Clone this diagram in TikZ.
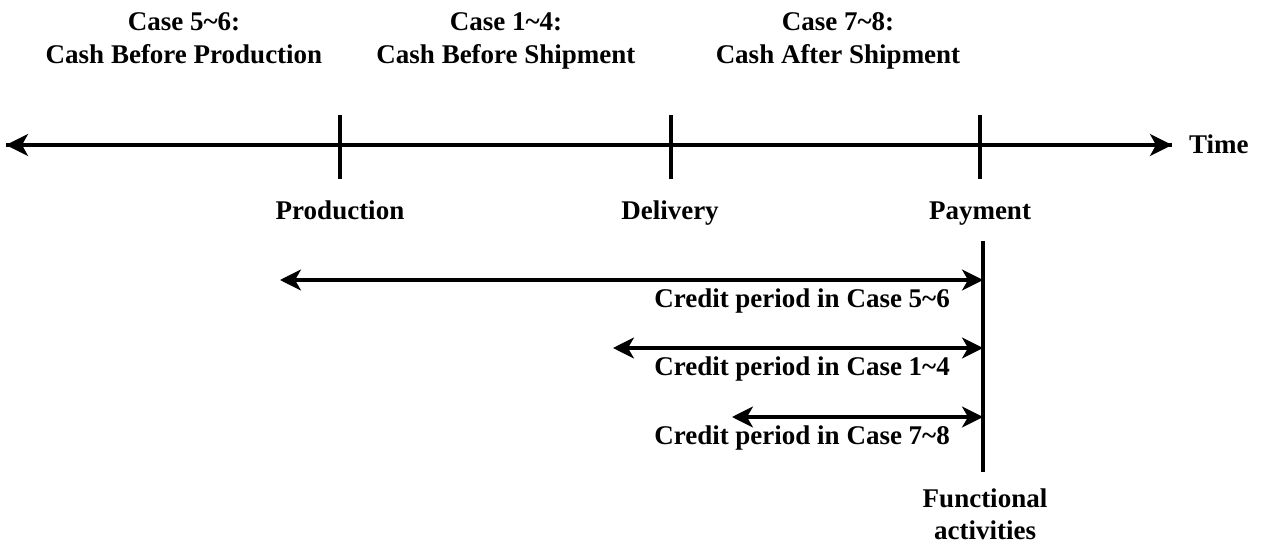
\documentclass[tikz,border=0pt]{standalone}
\usepackage{fontspec}
\setmainfont{Liberation Serif}
\usetikzlibrary{arrows.meta}
\begin{document}
\begin{tikzpicture}[x=1bp,y=-1bp,
  lbl/.style={font=\fontsize{27bp}{32bp}\selectfont\bfseries, inner sep=0pt, anchor=base},
  axis/.style={line width=3.5bp, -{Stealth[length=22bp,width=22bp,inset=6bp]}},
  tick/.style={line width=3.5bp},
  credit/.style={line width=3.2bp, {Stealth[length=21bp,width=21bp,inset=6bp]}-{Stealth[length=21bp,width=21bp,inset=6bp]}}]
\useasboundingbox (0,0) rectangle (1263,546);
% axis
\coordinate (L) at (6,145);
\coordinate (R) at (1172,145);
\draw[axis] (R) -- (L);
\draw[axis] (L) -- (R);
\node[lbl, anchor=base west] (time) at (1189,154) {Time};
% ticks
\coordinate (p1) at (340,115); \coordinate (p2) at (340,179);
\coordinate (d1) at (671,115); \coordinate (d2) at (671,179);
\coordinate (y1) at (980,115); \coordinate (y2) at (980,179);
\draw[tick] (p1) -- (p2);
\draw[tick] (d1) -- (d2);
\draw[tick] (y1) -- (y2);
\node[lbl] (prod) at (340,220) {Production};
\node[lbl] (deliv) at (670,220) {Delivery};
\node[lbl] (pay) at (980,220) {Payment};
% top labels
\node[lbl] (c56a) at (184,31) {Case 5\textasciitilde 6:};
\node[lbl] (c56b) at (184,64) {Cash Before Production};
\node[lbl] (c14a) at (506,31) {Case 1\textasciitilde 4:};
\node[lbl] (c14b) at (506,64) {Cash Before Shipment};
\node[lbl] (c78a) at (838,31) {Case 7\textasciitilde 8:};
\node[lbl] (c78b) at (838,64) {Cash After Shipment};
% functional line
\coordinate (f1) at (983,241);
\coordinate (f2) at (983,472);
\draw[line width=3.5bp] (f1) -- (f2);
\node[lbl] (funca) at (985,507) {Functional};
\node[lbl] (funcb) at (985,539) {activities};
% credit arrows
\coordinate (a1) at (280,280); \coordinate (b1) at (983,280);
\coordinate (a2) at (613,348); \coordinate (b2) at (983,348);
\coordinate (a3) at (732,417); \coordinate (b3) at (983,417);
\draw[credit] (a1) -- (b1);
\draw[credit] (a2) -- (b2);
\draw[credit] (a3) -- (b3);
\node[lbl, anchor=base east] (t1) at (950,308) {Credit period in Case 5\textasciitilde 6};
\node[lbl, anchor=base east] (t2) at (950,376) {Credit period in Case 1\textasciitilde 4};
\node[lbl, anchor=base east] (t3) at (950,444) {Credit period in Case 7\textasciitilde 8};
\end{tikzpicture}
\end{document}
